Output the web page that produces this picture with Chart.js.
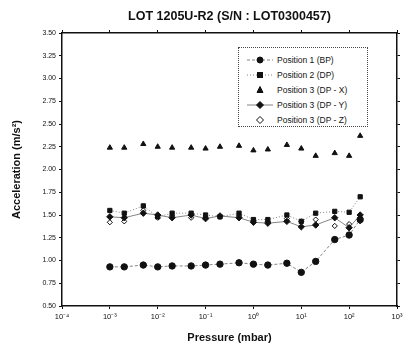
<!DOCTYPE html>
<html>
<head>
<meta charset="utf-8">
<script src="https://cdn.jsdelivr.net/npm/chart.js@4/dist/chart.umd.min.js"></script>
<style>
    html, body { margin: 0; padding: 0; background: #fff; }
    #wrap { position: relative; width: 406px; height: 353px; }
    #legende {
        position: absolute; left: 238px; top: 47px; width: 130px; height: 80px;
        border: 1px dotted #444; box-sizing: border-box; background: #fff;
        font: 8.5px "Liberation Sans", Arial, sans-serif; color: #111;
        padding-top: 4px;
    }
    #legende .ligne { display: flex; align-items: center; height: 15px; }
    #legende svg { margin-left: 8px; margin-right: 4px; }
</style>
</head>
<body>
<div id="wrap">
    <canvas id="graphique" width="406" height="353"></canvas>
    <div id="legende"></div>
</div>
<script>
// Pressions (mbar)
const pressions = [0.001, 0.002, 0.005, 0.01, 0.02, 0.05, 0.1, 0.2, 0.5, 1, 2, 5, 10, 20, 50, 100, 170];

// Accélérations (m/s²)
const position1BP = [0.93, 0.93, 0.95, 0.93, 0.94, 0.94, 0.95, 0.96, 0.975, 0.96, 0.95, 0.97, 0.87, 0.99, 1.23, 1.28, 1.45];
const position2DP = [1.55, 1.52, 1.60, 1.48, 1.52, 1.52, 1.50, 1.48, 1.52, 1.45, 1.45, 1.50, 1.43, 1.52, 1.54, 1.53, 1.70];
const position3X  = [2.24, 2.24, 2.28, 2.25, 2.24, 2.24, 2.23, 2.25, 2.26, 2.21, 2.22, 2.27, 2.23, 2.15, 2.18, 2.15, 2.37];
const position3Y  = [1.48, 1.47, 1.52, 1.50, 1.47, 1.50, 1.46, 1.49, 1.47, 1.42, 1.41, 1.43, 1.37, 1.39, 1.47, 1.36, 1.50];
const position3Z  = [1.42, 1.43, 1.55, 1.47, 1.49, 1.47, 1.47, 1.48, 1.49, 1.44, 1.43, 1.46, 1.43, 1.45, 1.38, 1.40, 1.43];

const libelles = ["Position 1 (BP)", "Position 2 (DP)", "Position 3 (DP - X)", "Position 3 (DP - Y)", "Position 3 (DP - Z)"];
const decades = [-4, -3, -2, -1, 0, 1, 2, 3];
const ticksY = [0.5, 0.75, 1.0, 1.25, 1.5, 1.75, 2.0, 2.25, 2.5, 2.75, 3.0, 3.25, 3.5];

const exposants = { "-": "⁻", "0": "⁰", "1": "¹", "2": "²", "3": "³", "4": "⁴" };
function puissance(n) {
    return "10" + String(n).split("").map(c => exposants[c]).join("");
}

function points(valeurs) {
    return pressions.map((p, i) => ({ x: p, y: valeurs[i] }));
}

const police = "'Liberation Sans', Arial, sans-serif";

const series = [
    { label: libelles[0], data: points(position1BP), pointStyle: "circle", pointRadius: 3.2, showLine: true, borderDash: [3, 2] },
    { label: libelles[1], data: points(position2DP), pointStyle: "rect", pointRadius: 3, showLine: true, borderDash: [1, 2] },
    { label: libelles[2], data: points(position3X), pointStyle: "triangle", pointRadius: 3, showLine: false },
    { label: libelles[3], data: points(position3Y), pointStyle: "rectRot", pointRadius: 3.2, showLine: true, borderDash: [] },
    { label: libelles[4], data: points(position3Z), pointStyle: "rectRot", pointRadius: 2.6, showLine: false, hollow: true }
];

const datasets = series.map(s => ({
    label: s.label,
    data: s.data,
    showLine: s.showLine,
    borderColor: "#666",
    borderWidth: 0.8,
    borderDash: s.borderDash || [],
    pointStyle: s.pointStyle,
    pointRadius: s.pointRadius,
    pointBackgroundColor: s.hollow ? "#fff" : "#111",
    pointBorderColor: "#111",
    pointBorderWidth: 1,
    tension: 0
}));

const axeCommun = {
    border: { color: "#111", width: 1.5 },
    grid: { drawOnChartArea: false, color: "#111", tickLength: 3, lineWidth: 1 }
};

const ctx = document.getElementById("graphique").getContext("2d");
new Chart(ctx, {
    type: "scatter",
    data: { datasets: datasets },
    options: {
        responsive: false,
        animation: false,
        layout: { padding: 0 },
        plugins: {
            legend: { display: false },
            tooltip: { enabled: false },
            title: {
                display: true,
                fullSize: false,
                text: "LOT 1205U-R2 (S/N : LOT0300457)",
                color: "#111",
                font: { family: police, size: 12.5, weight: "bold" },
                padding: { top: 9, bottom: 3 }
            }
        },
        scales: {
            x: {
                ...axeCommun,
                type: "logarithmic",
                position: "bottom",
                min: 1e-4,
                max: 1e3,
                afterBuildTicks: s => { s.ticks = decades.map(d => ({ value: Math.pow(10, d) })); },
                afterFit: s => { s.height = 47; },
                ticks: {
                    color: "#111",
                    font: { family: police, size: 7.5 },
                    padding: 3,
                    maxRotation: 0,
                    callback: v => puissance(Math.round(Math.log10(v)))
                },
                title: {
                    display: true,
                    text: "Pressure (mbar)",
                    color: "#111",
                    font: { family: police, size: 11, weight: "bold" },
                    padding: { top: 6, bottom: 8 }
                }
            },
            x2: {
                ...axeCommun,
                type: "logarithmic",
                position: "top",
                min: 1e-4,
                max: 1e3,
                afterBuildTicks: s => { s.ticks = decades.map(d => ({ value: Math.pow(10, d) })); },
                afterFit: s => { s.height = 6; },
                ticks: { display: false }
            },
            y: {
                ...axeCommun,
                position: "left",
                min: 0.5,
                max: 3.5,
                afterBuildTicks: s => { s.ticks = ticksY.map(v => ({ value: v })); },
                afterFit: s => { s.width = 62; },
                ticks: {
                    color: "#111",
                    font: { family: police, size: 7 },
                    padding: 3,
                    callback: v => v.toFixed(2)
                },
                title: {
                    display: true,
                    text: "Acceleration (m/s²)",
                    color: "#111",
                    font: { family: police, size: 11, weight: "bold" },
                    padding: { top: 10, bottom: 4 }
                }
            },
            y2: {
                ...axeCommun,
                position: "right",
                min: 0.5,
                max: 3.5,
                afterBuildTicks: s => { s.ticks = ticksY.map(v => ({ value: v })); },
                afterFit: s => { s.width = 9; },
                ticks: { display: false }
            }
        }
    }
});

// Légende dans la zone du graphique
const legende = document.getElementById("legende");
series.forEach(s => {
    const ligne = document.createElement("div");
    ligne.className = "ligne";
    const dash = s.showLine ? (s.borderDash.length ? s.borderDash.join(",") : "none") : null;
    let trait = dash ? `<line x1="0" y1="4" x2="26" y2="4" stroke="#666" stroke-width="0.8" ${dash !== "none" ? `stroke-dasharray="${dash}"` : ""}/>` : "";
    let symbole = "";
    const fond = s.hollow ? "#fff" : "#111";
    if (s.pointStyle === "circle") symbole = `<circle cx="13" cy="4" r="3" fill="${fond}" stroke="#111"/>`;
    else if (s.pointStyle === "rect") symbole = `<rect x="10.5" y="1.5" width="5" height="5" fill="${fond}" stroke="#111"/>`;
    else if (s.pointStyle === "triangle") symbole = `<polygon points="13,0.5 16,6.5 10,6.5" fill="${fond}" stroke="#111"/>`;
    else symbole = `<polygon points="13,0.5 16.5,4 13,7.5 9.5,4" fill="${fond}" stroke="#111"/>`;
    ligne.innerHTML = `<svg width="26" height="8">${trait}${symbole}</svg><span>${s.label}</span>`;
    legende.appendChild(ligne);
});
</script>
</body>
</html>
